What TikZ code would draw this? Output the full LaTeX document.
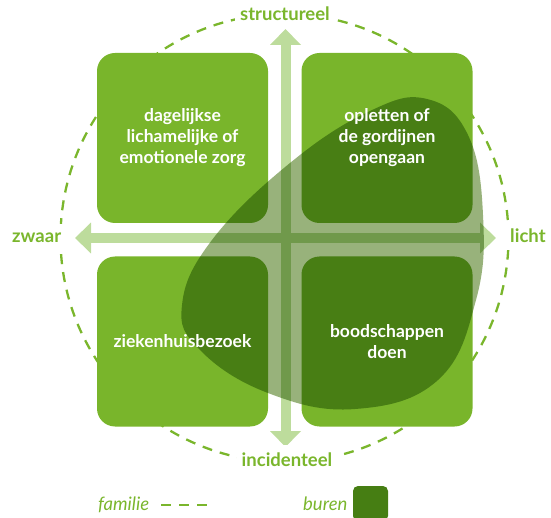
\documentclass[tikz,border=0pt]{standalone}
\usepackage{fontspec}
\setmainfont{Lato}
\usetikzlibrary{arrows.meta}
\definecolor{boxgreen}{HTML}{79B52B}
\definecolor{axisgreen}{HTML}{BDDC9C}
\definecolor{blobgreen}{HTML}{98B27B}
\definecolor{darkgreen}{HTML}{467E13}
\definecolor{labelgreen}{HTML}{7AB62C}
\tikzset{
  box/.style={fill=boxgreen, rounded corners=18pt, minimum width=171pt, minimum height=170pt, inner sep=0pt, outer sep=0pt},
  boxtext/.style={text=white, font=\bfseries\fontsize{17.5}{21}\selectfont, align=center, inner sep=0pt},
  axis/.style={draw=axisgreen, line width=10pt, {Triangle[width=30pt,length=16pt]}-{Triangle[width=30pt,length=16pt]}},
  axislabel/.style={text=labelgreen, font=\bfseries\fontsize{18.5}{21}\selectfont, fill=white, inner sep=7pt},
  ring/.style={draw=labelgreen, line width=2.3pt, dash pattern=on 10pt off 8pt},
  legendtext/.style={text=labelgreen, font=\itshape\fontsize{18.5}{21}\selectfont, inner sep=0pt},
}
\begin{document}
\begin{tikzpicture}[x=1pt,y=-1pt]
\useasboundingbox (0,0) rectangle (551,518);
% dashed ring
\node[ring, circle, minimum size=448pt, inner sep=0pt] (ring) at (284.5,238) {};
% boxes
\node[box] (tl) at (182.5,138) {};
\node[box] (tr) at (387,138) {};
\node[box] (bl) at (182.5,341.5) {};
\node[box] (br) at (387,341.5) {};
% axes
\coordinate (up) at (285.5,29);
\coordinate (down) at (285.5,447);
\coordinate (left) at (75,238);
\coordinate (right) at (496,238);
\draw[axis] (down) -- (up);
\draw[axis] (left) -- (right);
% axis labels
\node[axislabel, anchor=base, inner xsep=5pt] (structureel) at (285,21) {structureel};
\node[axislabel, anchor=base, inner xsep=5pt] (incidenteel) at (287,466) {incidenteel};
\node[axislabel, anchor=base west, inner sep=9pt] (zwaar) at (3,243) {zwaar};
\node[axislabel, anchor=base west] (licht) at (503,243) {licht};
% buren blob (multiply)
\begin{scope}[blend mode=multiply]
\fill[blobgreen] plot[smooth cycle, tension=0.7] coordinates {(427,99) (468,135) (483,215) (476,300) (438,380) (355,409) (268,393) (200,350) (182,305) (212,240) (290,163) (370,111)};
\end{scope}
% box texts
\node[boxtext] (tltext) at (tl) {dagelijkse\\lichamelijke of\\emotionele zorg};
\node[boxtext] (trtext) at (tr) {opletten of\\de gordijnen\\opengaan};
\node[boxtext] (bltext) at (bl) {ziekenhuisbezoek};
\node[boxtext] (brtext) at (br) {boodschappen\\doen};
% legend
\node[legendtext, anchor=base west] (familie) at (98,510) {familie};
\coordinate (dashA) at (161,505);
\coordinate (dashB) at (207,505);
\draw[ring] (dashA) -- (dashB);
\node[legendtext, anchor=base west] (buren) at (303,510) {buren};
\node[fill=darkgreen, rounded corners=5pt, minimum size=35pt, inner sep=0pt] (burenkey) at (370.5,503.5) {};
\end{tikzpicture}
\end{document}
